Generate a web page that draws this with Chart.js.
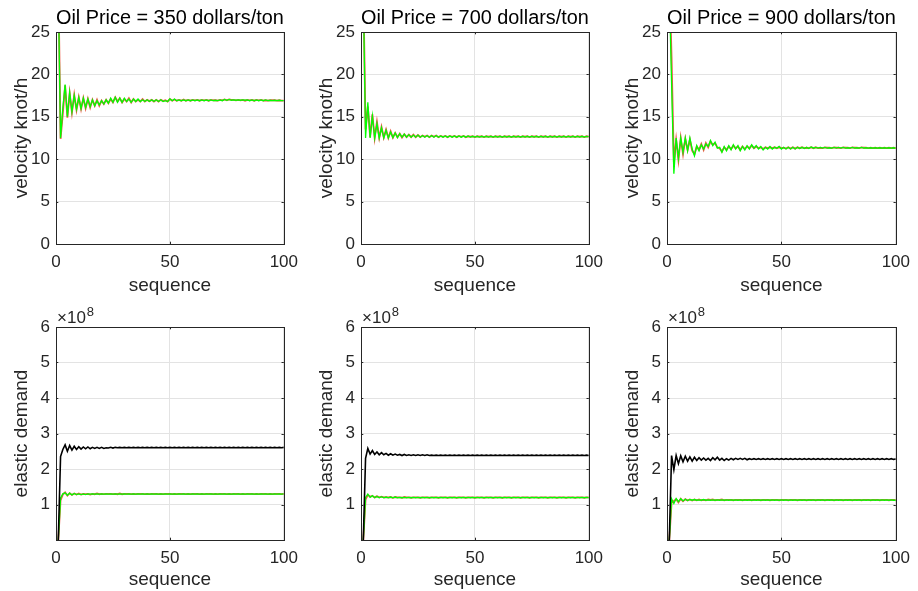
<!DOCTYPE html>
<html><head><meta charset="utf-8">
<script src="https://cdn.jsdelivr.net/npm/chart.js@4.4.1/dist/chart.umd.min.js"></script>
<style>
html,body{margin:0;padding:0;background:#fff;width:918px;height:591px;overflow:hidden;position:relative}
canvas{position:absolute}
</style></head><body>
<canvas id="c0"></canvas><canvas id="c1"></canvas><canvas id="c2"></canvas>
<canvas id="c3"></canvas><canvas id="c4"></canvas><canvas id="c5"></canvas>
<script>
// ---------------- data ----------------
const sequence = Array.from({length: 100}, (_, i) => i + 1);
const xTicks = [0, 50, 100];
const velocityTicks = [0, 5, 10, 15, 20, 25];
const demandTicks = [1, 2, 3, 4, 5, 6];
const titles = ['Oil Price = 350 dollars/ton', 'Oil Price = 700 dollars/ton', 'Oil Price = 900 dollars/ton'];

// velocity (knot/h) – green and red series
const v350g = [
30, 12.5, 16.0, 18.8, 15.0, 17.9, 15.6, 17.5, 15.9, 17.3,
16.0, 17.2, 16.1, 17.1, 16.2, 17.0, 16.3, 16.9, 16.4, 16.9,
16.5, 17.0, 16.6, 17.2, 16.7, 17.3, 16.7, 17.2, 16.7, 17.2,
16.8, 17.1, 16.7, 17.1, 16.8, 17.1, 16.8, 17.0, 16.8, 17.0,
16.8, 17.0, 16.8, 17.0, 16.8, 17.0, 16.8, 16.9, 16.8, 17.1,
16.9, 17.1, 16.9, 17.0, 16.9, 17.0, 16.9, 17.0, 16.9, 17.0,
16.9, 17.0, 16.9, 17.0, 16.9, 17.0, 16.9, 17.0, 16.9, 16.95,
16.9, 17.0, 16.9, 17.05, 16.95, 17.05, 16.95, 17.0, 16.95, 17.0,
16.95, 17.0, 16.95, 17.0, 16.9, 17.0, 16.9, 17.0, 16.9, 17.0,
16.9, 17.0, 16.9, 16.95, 16.9, 16.95, 16.9, 16.95, 16.9, 16.9];
const v350r = [
32, 12.4, 15.4, 18.7, 14.9, 17.8, 15.5, 17.6, 15.8, 17.3,
15.9, 17.2, 16.0, 17.1, 16.1, 17.0, 16.3, 17.0, 16.3, 16.9,
16.5, 17.0, 16.6, 17.1, 16.7, 17.3, 16.8, 17.2, 16.7, 17.1,
16.8, 17.2, 16.7, 17.1, 16.8, 17.0, 16.8, 17.1, 16.8, 17.0,
16.85, 17.0, 16.8, 17.0, 16.8, 17.0, 16.85, 16.95, 16.8, 17.1,
16.9, 17.05, 16.9, 17.0, 16.9, 17.05, 16.9, 17.0, 16.9, 17.0,
16.95, 17.0, 16.9, 17.0, 16.95, 17.0, 16.9, 17.0, 16.95, 16.95,
16.9, 17.0, 16.95, 17.05, 16.95, 17.05, 17.0, 17.0, 16.95, 17.0,
16.95, 17.0, 16.9, 17.0, 16.95, 17.0, 16.9, 17.0, 16.95, 17.0,
16.9, 16.95, 16.9, 16.95, 16.95, 16.95, 16.9, 16.95, 16.9, 16.9];
const v700g = [
30, 12.5, 16.7, 12.5, 15.1, 12.5, 14.2, 12.5, 13.7, 12.5,
13.4, 12.5, 13.2, 12.55, 13.1, 12.55, 13.0, 12.6, 12.95, 12.6,
12.9, 12.6, 12.85, 12.6, 12.85, 12.6, 12.8, 12.6, 12.8, 12.6,
12.8, 12.6, 12.8, 12.6, 12.75, 12.6, 12.75, 12.6, 12.75, 12.6,
12.75, 12.6, 12.75, 12.6, 12.75, 12.6, 12.75, 12.6, 12.7, 12.6,
12.7, 12.6, 12.7, 12.6, 12.7, 12.6, 12.7, 12.6, 12.7, 12.6,
12.7, 12.6, 12.7, 12.6, 12.7, 12.6, 12.7, 12.6, 12.7, 12.6,
12.7, 12.6, 12.7, 12.6, 12.7, 12.6, 12.7, 12.6, 12.7, 12.6,
12.7, 12.6, 12.7, 12.6, 12.7, 12.6, 12.7, 12.6, 12.7, 12.6,
12.7, 12.6, 12.7, 12.6, 12.7, 12.6, 12.7, 12.6, 12.7, 12.65];
const v700r = [
31, 13.5, 16.2, 12.6, 15.3, 12.5, 14.4, 12.5, 13.8, 12.55,
13.5, 12.5, 13.3, 12.55, 13.1, 12.6, 13.0, 12.55, 12.95, 12.6,
12.9, 12.6, 12.9, 12.6, 12.85, 12.6, 12.8, 12.65, 12.8, 12.6,
12.8, 12.65, 12.8, 12.6, 12.75, 12.65, 12.75, 12.6, 12.75, 12.65,
12.75, 12.6, 12.75, 12.65, 12.75, 12.6, 12.7, 12.65, 12.7, 12.6,
12.7, 12.65, 12.7, 12.6, 12.7, 12.65, 12.7, 12.6, 12.7, 12.65,
12.7, 12.6, 12.7, 12.65, 12.7, 12.6, 12.7, 12.65, 12.7, 12.6,
12.7, 12.65, 12.7, 12.6, 12.7, 12.65, 12.7, 12.6, 12.7, 12.65,
12.7, 12.6, 12.7, 12.65, 12.7, 12.6, 12.7, 12.65, 12.7, 12.6,
12.7, 12.65, 12.7, 12.6, 12.7, 12.65, 12.7, 12.6, 12.7, 12.65];
const v900g = [
30, 19.0, 8.3, 12.5, 10.1, 12.5, 10.8, 12.5, 11.0, 12.5,
11.2, 10.4, 11.6, 11.0, 11.7, 11.2, 11.8, 11.5, 12.2, 11.6,
12.0, 11.3, 11.4, 10.8, 11.5, 11.0, 11.6, 11.1, 11.7, 11.2,
11.6, 11.0, 11.5, 11.1, 11.6, 11.2, 11.7, 11.3, 11.6, 11.2,
11.5, 11.1, 11.4, 11.2, 11.5, 11.2, 11.4, 11.3, 11.5, 11.2,
11.4, 11.2, 11.4, 11.2, 11.4, 11.2, 11.4, 11.25, 11.4, 11.25,
11.4, 11.25, 11.45, 11.3, 11.4, 11.3, 11.4, 11.3, 11.4, 11.3,
11.35, 11.3, 11.4, 11.3, 11.4, 11.3, 11.4, 11.3, 11.35, 11.3,
11.4, 11.3, 11.35, 11.3, 11.4, 11.3, 11.35, 11.3, 11.35, 11.3,
11.35, 11.3, 11.35, 11.3, 11.35, 11.3, 11.35, 11.3, 11.35, 11.3];
const v900r = [
32, 22.0, 9.6, 12.3, 9.9, 12.5, 10.6, 12.4, 11.1, 12.3,
11.0, 10.6, 11.5, 11.1, 11.8, 11.1, 11.9, 11.4, 12.1, 11.7,
11.9, 11.4, 11.3, 10.9, 11.4, 11.1, 11.5, 11.2, 11.6, 11.3,
11.5, 11.1, 11.5, 11.2, 11.5, 11.3, 11.6, 11.3, 11.5, 11.3,
11.4, 11.2, 11.4, 11.3, 11.4, 11.3, 11.4, 11.3, 11.4, 11.3,
11.35, 11.25, 11.4, 11.25, 11.4, 11.25, 11.4, 11.3, 11.4, 11.3,
11.35, 11.3, 11.4, 11.3, 11.4, 11.3, 11.35, 11.3, 11.4, 11.35,
11.35, 11.3, 11.4, 11.35, 11.35, 11.3, 11.4, 11.35, 11.35, 11.3,
11.4, 11.35, 11.35, 11.3, 11.4, 11.35, 11.35, 11.3, 11.35, 11.3,
11.35, 11.3, 11.35, 11.3, 11.35, 11.3, 11.35, 11.3, 11.35, 11.3];

// elastic demand, in units of 10^8 – black, green and red series
const d350k = [
0, 2.35, 2.55, 2.68, 2.50, 2.66, 2.53, 2.64, 2.55, 2.63,
2.56, 2.62, 2.57, 2.62, 2.57, 2.61, 2.58, 2.61, 2.58, 2.61,
2.58, 2.60, 2.59, 2.61, 2.59, 2.61, 2.60, 2.61, 2.60, 2.61,
2.60, 2.61, 2.60, 2.61, 2.60, 2.61, 2.60, 2.61, 2.60, 2.61,
2.60, 2.61, 2.60, 2.61, 2.60, 2.61, 2.60, 2.61, 2.60, 2.61,
2.60, 2.61, 2.60, 2.61, 2.60, 2.61, 2.60, 2.61, 2.60, 2.61,
2.60, 2.61, 2.60, 2.61, 2.60, 2.61, 2.60, 2.61, 2.60, 2.61,
2.60, 2.61, 2.60, 2.61, 2.60, 2.61, 2.60, 2.61, 2.60, 2.61,
2.60, 2.61, 2.60, 2.61, 2.60, 2.61, 2.60, 2.61, 2.60, 2.61,
2.60, 2.61, 2.60, 2.61, 2.60, 2.61, 2.60, 2.61, 2.60, 2.61];
const d350g = [
0, 1.18, 1.30, 1.33, 1.26, 1.32, 1.27, 1.31, 1.28, 1.30,
1.28, 1.30, 1.28, 1.30, 1.29, 1.30, 1.29, 1.30, 1.29, 1.30,
1.29, 1.30, 1.29, 1.30, 1.29, 1.30, 1.29, 1.30, 1.29, 1.30,
1.29, 1.30, 1.29, 1.30, 1.29, 1.30, 1.29, 1.30, 1.29, 1.30,
1.29, 1.30, 1.29, 1.30, 1.29, 1.30, 1.29, 1.30, 1.29, 1.30,
1.29, 1.30, 1.29, 1.30, 1.29, 1.30, 1.29, 1.30, 1.29, 1.30,
1.29, 1.30, 1.29, 1.30, 1.29, 1.30, 1.29, 1.30, 1.29, 1.30,
1.29, 1.30, 1.29, 1.30, 1.29, 1.30, 1.29, 1.30, 1.29, 1.30,
1.29, 1.30, 1.29, 1.30, 1.29, 1.30, 1.29, 1.30, 1.29, 1.30,
1.29, 1.30, 1.29, 1.30, 1.29, 1.30, 1.29, 1.30, 1.29, 1.30];
const d350r = [
0, 1.12, 1.28, 1.34, 1.25, 1.32, 1.27, 1.31, 1.28, 1.31,
1.28, 1.30, 1.29, 1.30, 1.28, 1.30, 1.29, 1.31, 1.29, 1.30,
1.29, 1.30, 1.30, 1.30, 1.29, 1.30, 1.29, 1.31, 1.29, 1.30,
1.30, 1.30, 1.29, 1.30, 1.29, 1.30, 1.30, 1.30, 1.29, 1.30,
1.29, 1.30, 1.30, 1.30, 1.29, 1.30, 1.29, 1.30, 1.30, 1.30,
1.29, 1.30, 1.29, 1.30, 1.30, 1.30, 1.29, 1.30, 1.29, 1.30,
1.30, 1.30, 1.29, 1.30, 1.29, 1.30, 1.30, 1.30, 1.29, 1.30,
1.29, 1.30, 1.30, 1.30, 1.29, 1.30, 1.29, 1.30, 1.30, 1.30,
1.29, 1.30, 1.29, 1.30, 1.30, 1.30, 1.29, 1.30, 1.29, 1.30,
1.30, 1.30, 1.29, 1.30, 1.29, 1.30, 1.30, 1.30, 1.29, 1.30];
const d700k = [
0, 2.30, 2.58, 2.42, 2.52, 2.41, 2.48, 2.40, 2.46, 2.40,
2.44, 2.39, 2.43, 2.39, 2.42, 2.39, 2.41, 2.38, 2.41, 2.38,
2.40, 2.38, 2.40, 2.38, 2.40, 2.38, 2.40, 2.38, 2.40, 2.38,
2.39, 2.38, 2.39, 2.38, 2.39, 2.38, 2.39, 2.38, 2.39, 2.38,
2.39, 2.38, 2.39, 2.38, 2.39, 2.38, 2.39, 2.38, 2.39, 2.38,
2.39, 2.38, 2.39, 2.38, 2.39, 2.38, 2.39, 2.38, 2.39, 2.38,
2.39, 2.38, 2.39, 2.38, 2.39, 2.38, 2.39, 2.38, 2.39, 2.38,
2.39, 2.38, 2.39, 2.38, 2.39, 2.38, 2.39, 2.38, 2.39, 2.38,
2.39, 2.38, 2.39, 2.38, 2.39, 2.38, 2.39, 2.38, 2.39, 2.38,
2.39, 2.38, 2.39, 2.38, 2.39, 2.38, 2.39, 2.38, 2.39, 2.38];
const d700g = [
0, 1.20, 1.29, 1.20, 1.25, 1.19, 1.23, 1.19, 1.22, 1.19,
1.21, 1.19, 1.21, 1.19, 1.21, 1.19, 1.20, 1.19, 1.20, 1.19,
1.20, 1.19, 1.20, 1.19, 1.20, 1.19, 1.20, 1.19, 1.20, 1.19,
1.20, 1.19, 1.20, 1.19, 1.20, 1.19, 1.20, 1.19, 1.20, 1.19,
1.20, 1.19, 1.20, 1.19, 1.20, 1.19, 1.20, 1.19, 1.20, 1.19,
1.20, 1.19, 1.20, 1.19, 1.20, 1.19, 1.20, 1.19, 1.20, 1.19,
1.20, 1.19, 1.20, 1.19, 1.20, 1.19, 1.20, 1.19, 1.20, 1.19,
1.20, 1.19, 1.20, 1.19, 1.20, 1.19, 1.20, 1.19, 1.20, 1.19,
1.20, 1.19, 1.20, 1.19, 1.20, 1.19, 1.20, 1.19, 1.20, 1.19,
1.20, 1.19, 1.20, 1.19, 1.20, 1.19, 1.20, 1.19, 1.20, 1.19];
const d700r = [
0, 1.14, 1.27, 1.22, 1.24, 1.20, 1.23, 1.20, 1.22, 1.20,
1.21, 1.20, 1.21, 1.19, 1.21, 1.20, 1.20, 1.19, 1.21, 1.20,
1.20, 1.19, 1.20, 1.20, 1.20, 1.19, 1.20, 1.20, 1.20, 1.19,
1.20, 1.20, 1.20, 1.19, 1.20, 1.20, 1.20, 1.19, 1.20, 1.20,
1.20, 1.19, 1.20, 1.20, 1.20, 1.19, 1.20, 1.20, 1.20, 1.19,
1.20, 1.20, 1.20, 1.19, 1.20, 1.20, 1.20, 1.19, 1.20, 1.20,
1.20, 1.19, 1.20, 1.20, 1.20, 1.19, 1.20, 1.20, 1.20, 1.19,
1.20, 1.20, 1.20, 1.19, 1.20, 1.20, 1.20, 1.19, 1.20, 1.20,
1.20, 1.19, 1.20, 1.20, 1.20, 1.19, 1.20, 1.20, 1.20, 1.19,
1.20, 1.20, 1.20, 1.19, 1.20, 1.20, 1.20, 1.19, 1.20, 1.20];
const d900k = [
0, 2.38, 1.98, 2.38, 2.15, 2.37, 2.20, 2.36, 2.22, 2.34,
2.22, 2.33, 2.24, 2.32, 2.25, 2.31, 2.25, 2.30, 2.24, 2.32,
2.26, 2.33, 2.25, 2.30, 2.24, 2.29, 2.25, 2.30, 2.26, 2.30,
2.27, 2.30, 2.27, 2.30, 2.26, 2.29, 2.27, 2.29, 2.27, 2.29,
2.27, 2.29, 2.27, 2.29, 2.27, 2.29, 2.27, 2.29, 2.27, 2.29,
2.27, 2.29, 2.27, 2.29, 2.27, 2.29, 2.27, 2.29, 2.27, 2.29,
2.27, 2.29, 2.27, 2.29, 2.27, 2.29, 2.27, 2.29, 2.27, 2.29,
2.27, 2.29, 2.27, 2.29, 2.27, 2.29, 2.27, 2.29, 2.27, 2.29,
2.27, 2.29, 2.27, 2.29, 2.27, 2.29, 2.27, 2.29, 2.27, 2.29,
2.27, 2.29, 2.27, 2.29, 2.27, 2.29, 2.27, 2.29, 2.27, 2.28];
const d900g = [
0, 1.16, 1.03, 1.17, 1.08, 1.16, 1.10, 1.15, 1.11, 1.14,
1.12, 1.14, 1.12, 1.13, 1.12, 1.14, 1.12, 1.13, 1.12, 1.13,
1.12, 1.13, 1.12, 1.13, 1.12, 1.13, 1.12, 1.13, 1.12, 1.13,
1.12, 1.13, 1.12, 1.13, 1.12, 1.13, 1.12, 1.13, 1.12, 1.13,
1.12, 1.13, 1.12, 1.13, 1.12, 1.13, 1.12, 1.13, 1.12, 1.13,
1.12, 1.13, 1.12, 1.13, 1.12, 1.13, 1.12, 1.13, 1.12, 1.13,
1.12, 1.13, 1.12, 1.13, 1.12, 1.13, 1.12, 1.13, 1.12, 1.13,
1.12, 1.13, 1.12, 1.13, 1.12, 1.13, 1.12, 1.13, 1.12, 1.13,
1.12, 1.13, 1.12, 1.13, 1.12, 1.13, 1.12, 1.13, 1.12, 1.13,
1.12, 1.13, 1.12, 1.13, 1.12, 1.13, 1.12, 1.13, 1.12, 1.12];
const d900r = [
0, 1.05, 1.10, 1.15, 1.06, 1.16, 1.09, 1.15, 1.11, 1.14,
1.11, 1.14, 1.12, 1.14, 1.12, 1.13, 1.12, 1.14, 1.13, 1.14,
1.12, 1.13, 1.13, 1.14, 1.12, 1.13, 1.13, 1.13, 1.12, 1.13,
1.13, 1.13, 1.12, 1.13, 1.13, 1.13, 1.12, 1.13, 1.13, 1.13,
1.12, 1.13, 1.13, 1.13, 1.12, 1.13, 1.13, 1.13, 1.12, 1.13,
1.13, 1.13, 1.12, 1.13, 1.13, 1.13, 1.12, 1.13, 1.13, 1.13,
1.12, 1.13, 1.13, 1.13, 1.12, 1.13, 1.13, 1.13, 1.12, 1.13,
1.13, 1.13, 1.12, 1.13, 1.13, 1.13, 1.12, 1.13, 1.13, 1.13,
1.12, 1.13, 1.13, 1.13, 1.12, 1.13, 1.13, 1.13, 1.12, 1.13,
1.13, 1.13, 1.12, 1.13, 1.13, 1.13, 1.12, 1.13, 1.13, 1.12];

// ---------------- styling ----------------
const FONT = '"Liberation Sans", Arial, Helvetica, sans-serif';
const AXIS = '#262626';
const GRID = '#e3e3e3';
const GREEN = '#00ff00';
const RED = 'rgb(235,90,70)';
const BLACK = '#000000';
const TICK_SIZE = 17;
const LABEL_SIZE = 19;
const TITLE_SIZE = 20;

const framePlugin = {
  id: 'frame',
  afterDraw(chart) {
    const {ctx, chartArea: a} = chart;
    const xs = chart.scales.x, ys = chart.scales.y;
    const tl = 2.3;
    ctx.save();
    ctx.strokeStyle = AXIS;
    ctx.lineWidth = 1;
    ctx.beginPath();
    xs.ticks.forEach(t => {
      const px = Math.round(xs.getPixelForValue(t.value)) + 0.5;
      ctx.moveTo(px, a.bottom); ctx.lineTo(px, a.bottom - tl);
      ctx.moveTo(px, a.top); ctx.lineTo(px, a.top + tl);
    });
    ys.ticks.forEach(t => {
      const py = Math.round(ys.getPixelForValue(t.value)) + 0.5;
      ctx.moveTo(a.left, py); ctx.lineTo(a.left + tl, py);
      ctx.moveTo(a.right, py); ctx.lineTo(a.right - tl, py);
    });
    ctx.stroke();
    ctx.strokeRect(Math.round(a.left) + 0.5, Math.round(a.top) + 0.5,
                   Math.round(a.right - a.left), Math.round(a.bottom - a.top));
    const exp = chart.options.plugins.frame && chart.options.plugins.frame.exponent;
    if (exp) {
      ctx.fillStyle = AXIS;
      ctx.textBaseline = 'alphabetic';
      ctx.textAlign = 'left';
      ctx.font = TICK_SIZE + 'px ' + FONT;
      const base = '\u00d710';
      ctx.fillText(base, a.left + 1, a.top - 4);
      const w = ctx.measureText(base).width;
      ctx.font = Math.round(TICK_SIZE * 0.75) + 'px ' + FONT;
      ctx.fillText(exp, a.left + 1 + w + 1, a.top - 11);
    }
    ctx.restore();
  }
};

function panel(id, box, area, cfg) {
  const cv = document.getElementById(id);
  cv.style.left = box.x + 'px';
  cv.style.top = box.y + 'px';
  cv.width = box.w; cv.height = box.h;
  cv.style.width = box.w + 'px'; cv.style.height = box.h + 'px';
  const L = area.l - box.x, T = area.t - box.y, R = area.r - box.x, B = area.b - box.y;
  const titlePad = {top: 6, bottom: 2};
  const titleH = cfg.title ? TITLE_SIZE * 1.2 + titlePad.top + titlePad.bottom : 0;
  const datasets = cfg.series.map(s => ({
    data: sequence.map((x, i) => ({x: x, y: s.values[i]})),
    borderColor: s.color,
    backgroundColor: s.color,
    borderWidth: s.width,
    pointRadius: 0,
    tension: 0,
    fill: false
  }));
  new Chart(cv, {
    type: 'line',
    data: {datasets},
    options: {
      responsive: false,
      animation: false,
      devicePixelRatio: 1,
      layout: {padding: {left: 0, top: T - titleH, right: box.w - R, bottom: 0}},
      plugins: {
        legend: {display: false},
        tooltip: {enabled: false},
        title: {
          display: !!cfg.title, text: cfg.title || '', fullSize: false,
          color: '#000', padding: titlePad,
          font: {family: FONT, size: TITLE_SIZE, weight: 'normal', lineHeight: 1.2}
        },
        frame: {exponent: cfg.exponent || null}
      },
      scales: {
        x: {
          type: 'linear', min: 0, max: 100,
          afterBuildTicks: s => { s.ticks = xTicks.map(v => ({value: v})); },
          afterFit: s => { s.height = box.h - B; },
          grid: {color: GRID, drawTicks: false, lineWidth: 1},
          border: {display: false},
          ticks: {color: AXIS, padding: 8, maxRotation: 0, font: {family: FONT, size: TICK_SIZE}},
          title: {display: true, text: 'sequence', color: AXIS,
                  padding: {top: 0, bottom: cfg.xTitlePad},
                  font: {family: FONT, size: LABEL_SIZE, lineHeight: 1.2}}
        },
        y: {
          type: 'linear', min: cfg.yMin, max: cfg.yMax,
          afterBuildTicks: s => { s.ticks = cfg.yTicks.map(v => ({value: v})); },
          afterFit: s => { s.width = L; },
          grid: {color: GRID, drawTicks: false, lineWidth: 1},
          border: {display: false},
          ticks: {color: AXIS, padding: 6, font: {family: FONT, size: TICK_SIZE}},
          title: {display: true, text: cfg.yLabel, color: AXIS,
                  padding: {top: 10, bottom: 0},
                  font: {family: FONT, size: LABEL_SIZE, lineHeight: 1.2}}
        }
      }
    },
    plugins: [framePlugin]
  });
}

const colBox = [{x: 0, w: 306}, {x: 305, w: 306}, {x: 611, w: 307}];
const colArea = [{l: 56, r: 286}, {l: 361, r: 591}, {l: 667, r: 896}];
const velocity = [[v350g, v350r], [v700g, v700r], [v900g, v900r]];
const demand = [[d350k, d350g, d350r], [d700k, d700g, d700r], [d900k, d900g, d900r]];

for (let c = 0; c < 3; c++) {
  panel('c' + c, {x: colBox[c].x, y: 0, w: colBox[c].w, h: 300},
        {l: colArea[c].l, r: colArea[c].r, t: 32, b: 244},
        {title: titles[c], yLabel: 'velocity knot/h', yMin: 0, yMax: 25, yTicks: velocityTicks,
         xTitlePad: 2.6,
         series: [{values: velocity[c][0], color: GREEN, width: 1.3},
                  {values: velocity[c][1], color: RED, width: 1.8}]});
  panel('c' + (c + 3), {x: colBox[c].x, y: 300, w: colBox[c].w, h: 291},
        {l: colArea[c].l, r: colArea[c].r, t: 327, b: 540},
        {yLabel: 'elastic demand', yMin: 0, yMax: 6, yTicks: demandTicks, exponent: '8',
         xTitlePad: 0,
         series: [{values: demand[c][0], color: BLACK, width: 1.6},
                  {values: demand[c][1], color: GREEN, width: 1.3},
                  {values: demand[c][2], color: RED, width: 1.8}]});
}
</script>
</body></html>
